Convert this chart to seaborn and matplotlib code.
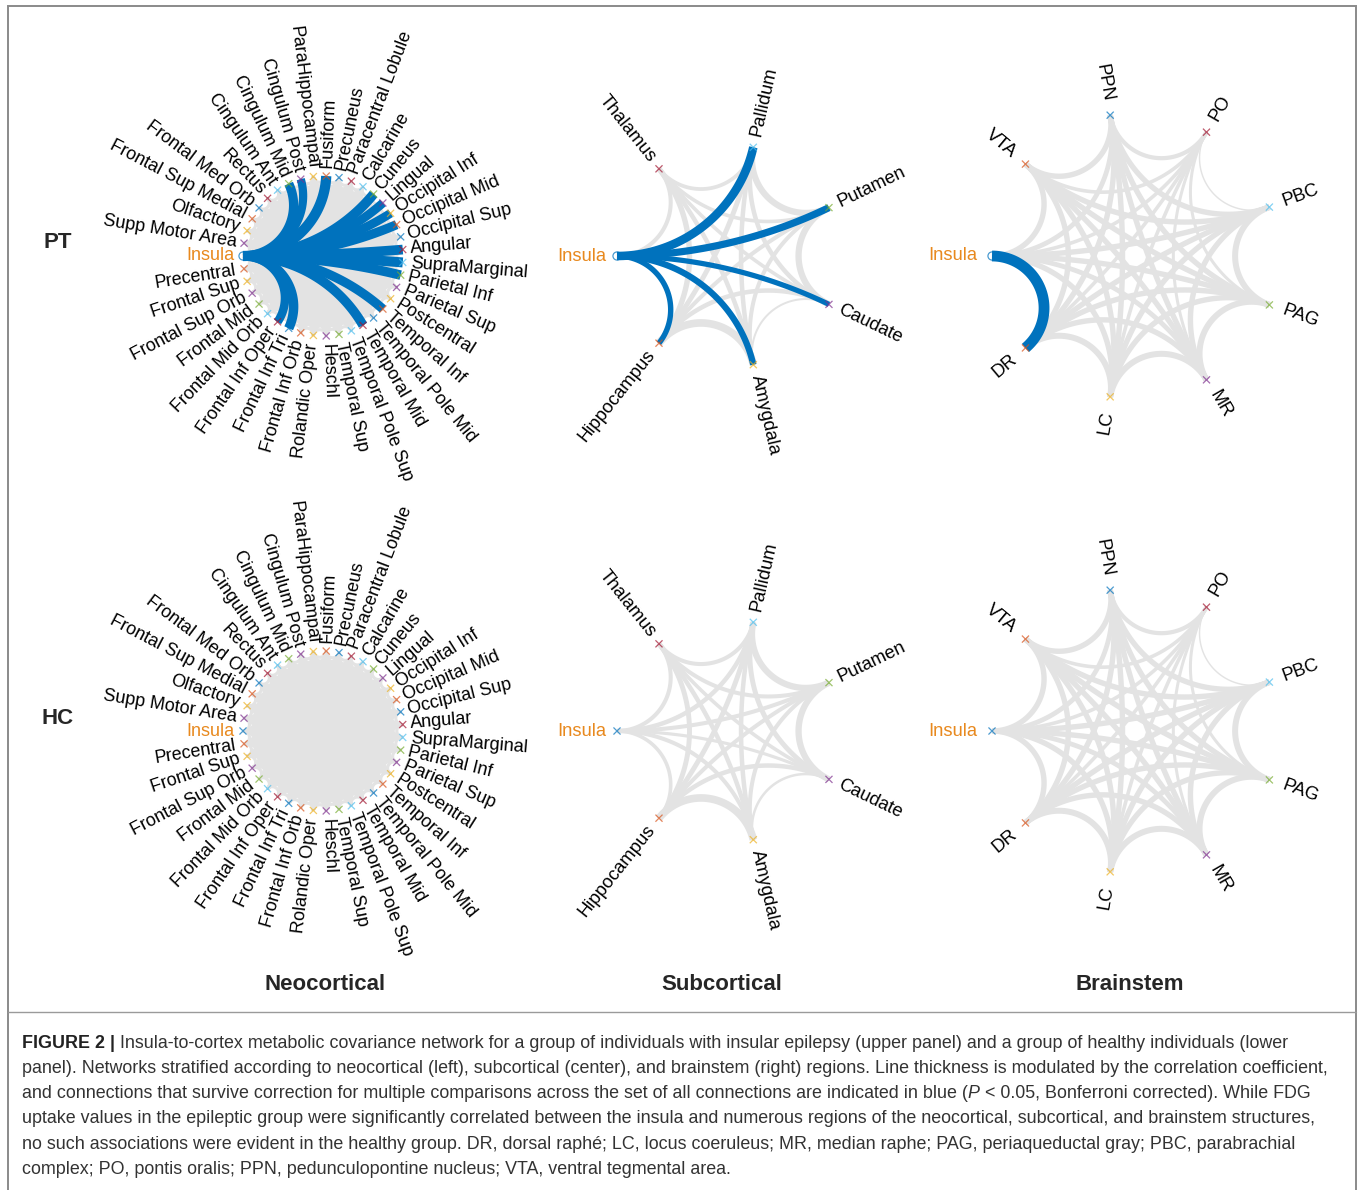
import numpy as np
import pandas as pd
import matplotlib
matplotlib.use("Agg")
import matplotlib.pyplot as plt
from matplotlib.collections import LineCollection
from matplotlib.patches import Rectangle
from matplotlib.lines import Line2D
import seaborn as sns

sns.set_theme(style="white")
plt.rcParams["font.family"] = ["Liberation Sans", "DejaVu Sans"]

W, H, DPI = 1360, 1190, 100
PT_PER_PX = 72.0 / DPI

# ---------------------------------------------------------------------------
# Regions, listed counter-clockwise starting from the insula (left-hand side)
# ---------------------------------------------------------------------------
neo_regions = [
    "Insula", "Precentral", "Frontal Sup", "Frontal Sup Orb", "Frontal Mid",
    "Frontal Mid Orb", "Frontal Inf Oper", "Frontal Inf Tri", "Frontal Inf Orb",
    "Rolandic Oper", "Heschl", "Temporal Sup", "Temporal Pole Sup", "Temporal Mid",
    "Temporal Pole Mid", "Temporal Inf", "Postcentral", "Parietal Sup",
    "Parietal Inf", "SupraMarginal", "Angular", "Occipital Sup", "Occipital Mid",
    "Occipital Inf", "Lingual", "Cuneus", "Calcarine", "Paracentral Lobule",
    "Precuneus", "Fusiform", "ParaHippocampal", "Cingulum Post", "Cingulum Mid",
    "Cingulum Ant", "Rectus", "Frontal Med Orb", "Frontal Sup Medial",
    "Olfactory", "Supp Motor Area",
]
sub_regions = ["Insula", "Hippocampus", "Amygdala", "Caudate", "Putamen",
               "Pallidum", "Thalamus"]
bs_regions = ["Insula", "DR", "LC", "MR", "PAG", "PBC", "PO", "PPN", "VTA"]

# Insula connections surviving Bonferroni correction (epilepsy group)
neo_pt_sig_regions = ["Cingulum Mid", "Cingulum Post", "Fusiform", "Cuneus",
                      "Lingual", "Occipital Inf", "Occipital Mid", "Angular",
                      "SupraMarginal", "Parietal Inf", "Temporal Inf",
                      "Temporal Mid", "Frontal Inf Oper", "Frontal Inf Tri"]
neo_pt_sig_r = [0.74, 0.66, 0.82, 0.78, 0.70, 0.70, 0.74, 0.78,
                0.80, 0.76, 0.74, 0.76, 0.68, 0.76]
# non-significant neocortical links are drawn as a uniform grey web
neo_background_r = 0.25

sub_pt_sig_regions = ["Hippocampus", "Amygdala", "Caudate", "Putamen", "Pallidum"]
bs_pt_sig_regions = ["DR"]

# Correlation coefficients, upper triangle (row i lists pairs i-j for j > i)
sub_pt_r = [
    [0.60, 0.70, 0.58, 0.80, 0.95, 0.45],
    [0.85, 0.50, 0.45, 0.55, 0.60],
    [0.22, 0.45, 0.50, 0.50],
    [0.70, 0.50, 0.40],
    [0.70, 0.40],
    [0.42],
]
sub_hc_r = [
    [0.40, 0.45, 0.35, 0.45, 0.50, 0.45],
    [0.85, 0.50, 0.45, 0.55, 0.55],
    [0.28, 0.45, 0.50, 0.50],
    [0.70, 0.55, 0.40],
    [0.70, 0.45],
    [0.45],
]
bs_pt_r = [
    [0.90, 0.45, 0.40, 0.45, 0.45, 0.30, 0.40, 0.45],
    [0.50, 0.45, 0.45, 0.45, 0.30, 0.45, 0.45],
    [0.50, 0.45, 0.45, 0.30, 0.45, 0.45],
    [0.50, 0.45, 0.25, 0.45, 0.45],
    [0.50, 0.25, 0.45, 0.45],
    [0.12, 0.45, 0.45],
    [0.35, 0.30],
    [0.45],
]
bs_hc_r = [
    [0.45, 0.45, 0.40, 0.45, 0.45, 0.30, 0.40, 0.45],
    [0.50, 0.45, 0.45, 0.45, 0.30, 0.45, 0.45],
    [0.50, 0.45, 0.45, 0.30, 0.45, 0.45],
    [0.50, 0.45, 0.25, 0.45, 0.45],
    [0.50, 0.25, 0.45, 0.45],
    [0.12, 0.45, 0.45],
    [0.35, 0.30],
    [0.45],
]

group_labels = ["PT", "HC"]
column_titles = ["Neocortical", "Subcortical", "Brainstem"]

caption_lines = [
    [("FIGURE 2 |", "bold"), (" Insula-to-cortex metabolic covariance network for a group of "
                              "individuals with insular epilepsy (upper panel) and a group of "
                              "healthy individuals (lower", "normal")],
    [("panel). Networks stratified according to neocortical (left), subcortical (center), "
      "and brainstem (right) regions. Line thickness is modulated by the correlation "
      "coefficient,", "normal")],
    [("and connections that survive correction for multiple comparisons across the set of "
      "all connections are indicated in blue (", "normal"), ("P", "italic"),
     (" < 0.05, Bonferroni corrected). While FDG", "normal")],
    [("uptake values in the epileptic group were significantly correlated between the "
      "insula and numerous regions of the neocortical, subcortical, and brainstem "
      "structures,", "normal")],
    [("no such associations were evident in the healthy group. DR, dorsal raphé; LC, locus "
      "coeruleus; MR, median raphe; PAG, periaqueductal gray; PBC, parabrachial", "normal")],
    [("complex; PO, pontis oralis; PPN, pedunculopontine nucleus; VTA, ventral tegmental "
      "area.", "normal")],
]

# ---------------------------------------------------------------------------
# Styling
# ---------------------------------------------------------------------------
node_cycle = [(0.000, 0.447, 0.741), (0.850, 0.325, 0.098), (0.929, 0.694, 0.125),
              (0.494, 0.184, 0.556), (0.466, 0.674, 0.188), (0.301, 0.745, 0.933),
              (0.635, 0.078, 0.184)]
SIG_BLUE = "#0072BD"
EDGE_GREY = "#e3e3e3"
INSULA_ORANGE = "#E8891E"


def upper_to_edges(regions, rows):
    recs = []
    for i, row in enumerate(rows):
        for k, r in enumerate(row):
            recs.append((regions[i], regions[i + 1 + k], r))
    return pd.DataFrame(recs, columns=["source", "target", "r"])


def sig_edges(regions, sig_regions, rows):
    df = upper_to_edges(regions, rows)
    df["sig"] = (df["source"] == "Insula") & df["target"].isin(sig_regions)
    return df


def arc(t1, t2, n=64):
    """Geodesic arc (circle orthogonal to the unit circle) between two nodes."""
    u = np.array([np.cos(t1), np.sin(t1)])
    v = np.array([np.cos(t2), np.sin(t2)])
    d = u[0] * v[1] - u[1] * v[0]
    if abs(d) < 1e-9:
        s = np.linspace(0, 1, n)[:, None]
        return u * (1 - s) + v * s
    x0 = -(u[1] - v[1]) / d
    y0 = (u[0] - v[0]) / d
    rad = np.sqrt(x0 ** 2 + y0 ** 2 - 1)
    a1 = np.arctan2(u[1] - y0, u[0] - x0)
    a2 = np.arctan2(v[1] - y0, v[0] - x0)
    da = (a2 - a1 + np.pi) % (2 * np.pi) - np.pi
    a = a1 + np.linspace(0, 1, n) * da
    return np.column_stack([x0 + rad * np.cos(a), y0 + rad * np.sin(a)])


def panel_axes(fig, cx, cy, r_px, half):
    size = 2 * half * r_px
    ax = fig.add_axes([(cx - half * r_px) / W, 1 - (cy + half * r_px) / H,
                       size / W, size / H])
    ax.set_axis_off()
    return ax


def draw_network(ax, regions, edges, px_per_r, insula_marker, fontsize, half):
    n = len(regions)
    theta = np.pi + 2 * np.pi * np.arange(n) / n
    ang = dict(zip(regions, theta))

    grey = edges[~edges["sig"]]
    blue = edges[edges["sig"]]
    for df, color, z in ((grey, EDGE_GREY, 1), (blue, SIG_BLUE, 2)):
        if len(df) == 0:
            continue
        segs = [arc(ang[s], ang[t]) for s, t in zip(df["source"], df["target"])]
        lws = df["r"].to_numpy() * px_per_r * PT_PER_PX
        ax.add_collection(LineCollection(segs, colors=color, linewidths=lws,
                                         zorder=z, capstyle="butt"))

    nodes = pd.DataFrame({"region": regions, "x": np.cos(theta), "y": np.sin(theta)})
    palette = {reg: node_cycle[k % 7] for k, reg in enumerate(regions)}
    cross = nodes if insula_marker == "x" else nodes.iloc[1:]
    sns.scatterplot(data=cross, x="x", y="y", hue="region", palette=palette,
                    marker="x", s=26, linewidth=0.9, alpha=0.7, legend=False,
                    ax=ax, zorder=5)
    if insula_marker == "o":
        ax.scatter([nodes.x[0]], [nodes.y[0]], s=34, facecolors="none",
                   edgecolors=node_cycle[0], linewidths=0.9, alpha=0.7, zorder=6)

    for reg, t in zip(regions, theta):
        deg = np.degrees(t) % 360
        if 90 < deg < 270:
            rot, ha = deg - 180, "right"
        else:
            rot, ha = deg, "left"
        color = INSULA_ORANGE if reg == "Insula" else "black"
        ax.text(1.1 * np.cos(t), 1.1 * np.sin(t), reg, rotation=rot,
                rotation_mode="anchor", ha=ha, va="center", fontsize=fontsize,
                color=color, clip_on=False, zorder=7)

    ax.set_xlim(-half, half)
    ax.set_ylim(-half, half)
    ax.set_axis_off()


# ---------------------------------------------------------------------------
# Figure
# ---------------------------------------------------------------------------
fig = plt.figure(figsize=(W / DPI, H / DPI), dpi=DPI)
fig.patch.set_facecolor("white")

row_y = [256, 731]
col_x = [323, 728.5, 1135]
radii = [80, 111.5, 143]

neo_all = pd.DataFrame(
    [(a, b, neo_background_r) for i, a in enumerate(neo_regions)
     for b in neo_regions[i + 1:]], columns=["source", "target", "r"])

for row, grp in enumerate(group_labels):
    cy = row_y[row]
    # neocortical
    neo = neo_all.copy()
    neo["sig"] = False
    if grp == "PT":
        sig = pd.DataFrame({"source": "Insula", "target": neo_pt_sig_regions,
                            "r": neo_pt_sig_r, "sig": True})
        neo = pd.concat([neo, sig], ignore_index=True)
    ax = panel_axes(fig, col_x[0], cy, radii[0], 3.2)
    draw_network(ax, neo_regions, neo, 12.5, "o" if grp == "PT" else "x", 13.0, 3.2)

    # subcortical
    sub = sig_edges(sub_regions, sub_pt_sig_regions if grp == "PT" else [],
                    sub_pt_r if grp == "PT" else sub_hc_r)
    ax = panel_axes(fig, col_x[1], cy, radii[1], 1.9)
    draw_network(ax, sub_regions, sub, 9.0, "o" if grp == "PT" else "x", 13.2, 1.9)

    # brainstem
    bs = sig_edges(bs_regions, bs_pt_sig_regions if grp == "PT" else [],
                   bs_pt_r if grp == "PT" else bs_hc_r)
    ax = panel_axes(fig, col_x[2], cy, radii[2], 1.6)
    draw_network(ax, bs_regions, bs, 12.0, "o" if grp == "PT" else "x", 13.2, 1.6)

    fig.text(58 / W, 1 - (cy - 13) / H, grp, fontsize=16, fontweight="bold",
             ha="center", va="center")

for x, title in zip([325, 722, 1130], column_titles):
    fig.text(x / W, 1 - 985 / H, title, fontsize=16, fontweight="bold",
             ha="center", va="center")

# frame and separator
fig.add_artist(Rectangle((8 / W, -0.01), 1348 / W, (H - 6) / H + 0.01,
                         transform=fig.transFigure, fill=False,
                         edgecolor="#8a8a8a", linewidth=1.4))
fig.add_artist(Line2D([8 / W, 1356 / W], [1 - 1012 / H, 1 - 1012 / H],
                      transform=fig.transFigure, color="#9a9a9a", linewidth=1.0))

# caption, sized so the longest line spans the frame
renderer = fig.canvas.get_renderer()
probe = fig.text(0, 0, caption_lines[1][0][0], fontsize=12)
w12 = probe.get_window_extent(renderer).width
probe.remove()
cap_size = 12 * 1308 / w12

sp = fig.text(0, 0, "a a", fontsize=cap_size)
sp2 = fig.text(0, 0, "aa", fontsize=cap_size)
space_w = sp.get_window_extent(renderer).width - sp2.get_window_extent(renderer).width
sp.remove(); sp2.remove()

for li, runs in enumerate(caption_lines):
    y = 1043 + 25.3 * li
    x = 22.0
    for txt, style in runs:
        if txt.startswith(" "):
            x += space_w
            txt = txt.lstrip(" ")
        kw = dict(fontsize=cap_size, ha="left", va="center", color="#333333")
        if style == "bold":
            kw.update(fontweight="bold", color="#222222")
        elif style == "italic":
            kw.update(fontstyle="italic")
        t = fig.text(x / W, 1 - y / H, txt, **kw)
        x += t.get_window_extent(renderer).width

fig.savefig("out.png", dpi=DPI, facecolor="white")
